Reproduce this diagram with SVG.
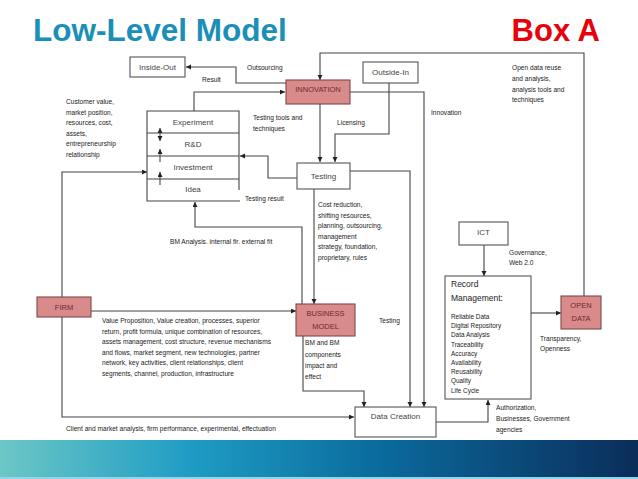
<svg xmlns="http://www.w3.org/2000/svg" width="638" height="479" viewBox="0 0 638 479">
<defs>
<marker id="ah" markerUnits="userSpaceOnUse" markerWidth="6" markerHeight="6" refX="5" refY="2.5" orient="auto">
<path d="M0,0 L5,2.5 L0,5 z" fill="#222"/>
</marker>
<marker id="ahs" markerUnits="userSpaceOnUse" markerWidth="6" markerHeight="6" refX="0" refY="2.5" orient="auto">
<path d="M5,0 L0,2.5 L5,5 z" fill="#222"/>
</marker>
<linearGradient id="foot" x1="0" y1="0" x2="1" y2="0">
<stop offset="0" stop-color="#6cc7c6"/>
<stop offset="0.3" stop-color="#1e9cc4"/>
<stop offset="0.6" stop-color="#0a6a9c"/>
<stop offset="1" stop-color="#0b2d5a"/>
</linearGradient>
<style>
.t{font-family:"Liberation Sans",Arial,sans-serif;fill:#222;}
.s{font-size:6.6px;}
.b{font-size:8px;text-anchor:middle;fill:#444;}
.r{font-size:7.5px;text-anchor:middle;fill:#6e2a2a;}
.box{fill:#fff;stroke:#555;stroke-width:1.1;}
.pbox{fill:#d98a8a;stroke:#7d4a4a;stroke-width:1.1;}
.c{fill:none;stroke:#444;stroke-width:1.1;marker-end:url(#ah);}
.l{fill:none;stroke:#444;stroke-width:1.1;}
</style>
</defs>
<rect width="638" height="479" fill="#fff"/>
<text x="33" y="41" font-family="Liberation Sans,Arial,sans-serif" font-size="31.5" font-weight="bold" fill="#1a8fb8">Low-Level Model</text>
<text x="600" y="41" font-family="Liberation Sans,Arial,sans-serif" font-size="31" font-weight="bold" fill="#e8000b" text-anchor="end">Box A</text>

<g id="connectors">
<path class="c" d="M584,296 V53 H320 V80"/>
<path class="c" d="M286,83 H236 V67 H186"/>
<path class="c" d="M194,111 V92 H285"/>
<path class="c" d="M320,104 V162"/>
<path class="c" d="M389,83 V134 H335 V162"/>
<path class="c" d="M350,92 H424 V407"/>
<path class="c" d="M350,171 H410 V407"/>
<path class="c" d="M297,178 H268 V156 H240"/>
<path class="c" d="M314,189 V304"/>
<path class="c" d="M302,304 V227 H195 V202"/>
<path class="c" d="M62,297 V172 H147"/>
<path class="c" d="M91,311 H296"/>
<path class="c" d="M62,317 V417 H354"/>
<path class="c" d="M303,336 V391 H364 V407"/>
<path class="c" d="M484,245 V276"/>
<path class="c" d="M531,313 H561"/>
<path class="c" d="M436,422 H488 V400"/>
<path fill="none" stroke="#444" stroke-width="1.1" d="M160,128 V141" style="marker-start:url(#ahs);marker-end:url(#ah)"/>
<path class="c" d="M160,162 V149"/>
<path class="c" d="M160,185 V172"/>
</g>

<g id="inside-out"><rect class="box" x="130" y="57" width="55" height="20"/><text class="t b" x="157.5" y="70">Inside-Out</text></g>
<g id="innovation"><rect class="pbox" x="286" y="80" width="64" height="24"/><text class="t r" x="318" y="92" font-size="8">INNOVATION</text></g>
<g id="outside-in"><rect class="box" x="363" y="62" width="55" height="21"/><text class="t b" x="390.5" y="75">Outside-In</text></g>
<g id="stack">
<path class="l" d="M239,190 V111 H147 V201 H240"/>
<path class="l" d="M147,133 H239 M147,156 H239 M147,179 H239"/>
<text class="t b" x="193" y="125" font-size="8.5">Experiment</text>
<text class="t b" x="193" y="147">R&amp;D</text>
<text class="t b" x="193" y="170">Investment</text>
<text class="t b" x="193" y="192">Idea</text>
</g>
<g id="testing"><rect class="box" x="297" y="163" width="53" height="26"/><text class="t b" x="323.5" y="179" font-size="8.5">Testing</text></g>
<g id="firm"><rect class="pbox" x="37" y="297" width="54" height="20"/><text class="t r" x="64" y="310">FIRM</text></g>
<g id="business-model"><rect class="pbox" x="296" y="304" width="59" height="32"/><text class="t r" x="325.5" y="316" font-size="7">BUSINESS</text><text class="t r" x="325.5" y="329" font-size="7">MODEL</text></g>
<g id="data-creation"><rect class="box" x="355" y="407" width="81" height="30"/><text class="t b" x="395.5" y="419">Data Creation</text></g>
<g id="ict"><rect class="box" x="459" y="222" width="49" height="23"/><text class="t b" x="483.5" y="235">ICT</text></g>
<g id="record-management"><rect class="box" x="445" y="276" width="86" height="123"/>
<text class="t" x="451" y="287" font-size="8.5" fill="#444">Record</text>
<text class="t" x="451" y="301" font-size="8.5" fill="#444">Management:</text>
<g class="t" font-size="6.4">
<text x="451" y="319">Reliable Data</text>
<text x="451" y="328">Digital Repository</text>
<text x="451" y="337">Data Analysis</text>
<text x="451" y="347">Traceability</text>
<text x="451" y="356">Accuracy</text>
<text x="451" y="365">Availability</text>
<text x="451" y="374">Reusability</text>
<text x="451" y="383">Quality</text>
<text x="451" y="393">Life Cycle</text>
</g></g>
<g id="open-data"><rect class="pbox" x="561" y="296" width="40" height="33"/><text class="t r" x="581" y="308">OPEN</text><text class="t r" x="581" y="321">DATA</text></g>

<g id="labels" class="t s">
<text x="247" y="70">Outsourcing</text>
<text x="202" y="82">Result</text>
<text x="253" y="120">Testing tools and</text>
<text x="253" y="131">techniques</text>
<text x="337" y="125">Licensing</text>
<text x="431" y="115">Innovation</text>
<text x="512" y="70">Open data reuse</text>
<text x="512" y="81">and analysis,</text>
<text x="512" y="92">analysis tools and</text>
<text x="512" y="102">techniques</text>
<text x="66" y="104">Customer value,</text>
<text x="66" y="115">market position,</text>
<text x="66" y="125">resources, cost,</text>
<text x="66" y="136">assets,</text>
<text x="66" y="146">entrepreneurship</text>
<text x="66" y="157">relationship</text>
<text x="245" y="201">Testing result</text>
<text x="170" y="244">BM Analysis. internal fir. external fit</text>
<text x="318" y="207">Cost reduction,</text>
<text x="318" y="218">shifting resources,</text>
<text x="318" y="228">planning, outsourcing,</text>
<text x="318" y="239">management</text>
<text x="318" y="249">strategy, foundation,</text>
<text x="318" y="260">proprietary, rules</text>
<text x="379" y="323">Testing</text>
<text x="509" y="255">Governance,</text>
<text x="509" y="265">Web 2.0</text>
<text x="102" y="323">Value Proposition, Value creation, processes, superior</text>
<text x="102" y="334">return, profit formula, unique combination of resources,</text>
<text x="102" y="344">assets management, cost structure, revenue mechanisms</text>
<text x="102" y="355">and flows, market segment, new technologies, partner</text>
<text x="102" y="365">network, key activities, client relationships, client</text>
<text x="102" y="376">segments, channel, production, infrastructure</text>
<text x="305" y="345">BM and BM</text>
<text x="305" y="357">components</text>
<text x="305" y="368">impact and</text>
<text x="305" y="379">effect</text>
<text x="540" y="341">Transparency,</text>
<text x="540" y="351">Openness</text>
<text x="496" y="410">Authorization,</text>
<text x="496" y="421">Businesses, Government</text>
<text x="496" y="432">agencies</text>
<text x="66" y="431">Client and market analysis, firm performance, experimental, effectuation</text>
</g>

<rect x="0" y="440" width="638" height="37" fill="url(#foot)"/>
<rect x="0" y="477" width="638" height="2" fill="#8fd6ea"/>
</svg>
